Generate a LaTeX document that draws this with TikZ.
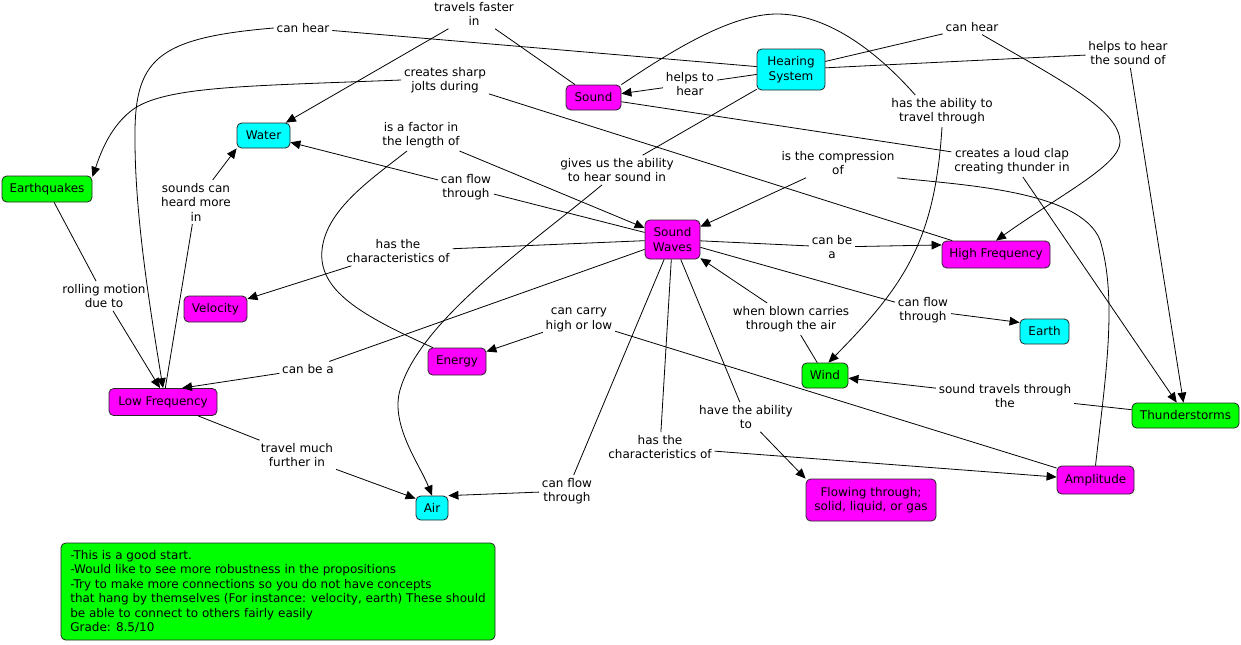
\documentclass[tikz,border=0pt]{standalone}
\usepackage{fontspec}
\setmainfont{DejaVu Sans}
\usetikzlibrary{arrows.meta,calc}
\definecolor{cmag}{HTML}{FF00FF}
\definecolor{ccyan}{HTML}{00FFFF}
\definecolor{cgreen}{HTML}{00FF00}
\begin{document}
\begin{tikzpicture}[x=0.75pt,y=-0.75pt,
  font=\fontsize{9}{10.9}\selectfont,
  concept/.style={draw=black!85, rounded corners=3.5pt, line width=0.6pt, inner sep=1pt, align=center, text=black},
  mag/.style={concept, fill=cmag},
  cya/.style={concept, fill=ccyan},
  grn/.style={concept, fill=cgreen},
  sz/.style 2 args={minimum width=#1*0.75pt, minimum height=#2*0.75pt},
  lab/.style={align=center, inner sep=2pt},
  con/.style={line width=0.6pt, draw=black},
  arr/.style={con, -{Triangle[length=7.5pt,width=6.5pt]}},
]
\fill[white] (0,0) rectangle (1241,644);
\useasboundingbox (0,0) rectangle (1241,644);

% concepts
\node[cya, sz={68}{41}] (HS) at (791,69.5) {Hearing\\System};
\node[mag, sz={55}{25}] (Sound) at (593.5,97.5) {Sound};
\node[cya, sz={53}{25}] (Water) at (263.5,135.5) {Water};
\node[grn, sz={90}{26}] (EQ) at (47,189) {Earthquakes};
\node[mag, sz={55}{39}] (SW) at (672.5,239.5) {Sound\\Waves};
\node[mag, sz={108}{27}] (HF) at (996,254.5) {High Frequency};
\node[mag, sz={63}{26}] (Vel) at (215.5,309) {Velocity};
\node[cya, sz={49}{25}] (Earth) at (1044.5,331.5) {Earth};
\node[mag, sz={58}{27}] (Energy) at (457,361.5) {Energy};
\node[grn, sz={46}{25}] (Wind) at (825,375.5) {Wind};
\node[mag, sz={108}{27}] (LF) at (163,402) {Low Frequency};
\node[grn, sz={107}{25}] (Thunder) at (1185.5,415.5) {Thunderstorms};
\node[mag, sz={77}{28}] (Amp) at (1095.5,480) {Amplitude};
\node[cya, sz={32}{24}] (Air) at (432,508) {Air};
\node[mag, sz={130}{42}] (Flow) at (871,500) {Flowing through;\\solid, liquid, or gas};
\node[grn, sz={434}{97}, align=left] (Note) at (278,591.5) {-This is a good start.\\-Would like to see more robustness in the propositions\\-Try to make more connections so you do not have concepts\\that hang by themselves (For instance: velocity, earth) These should\\be able to connect to others fairly easily\\Grade: 8.5/10};

% linking phrases
\node[lab] (L1) at (303,28) {can hear};
\node[lab] (L2) at (474,14) {travels faster\\in};
\node[lab] (L3) at (445,80) {creates sharp\\jolts during};
\node[lab] (L4) at (690,84) {helps to\\hear};
\node[lab] (L5) at (972,27) {can hear};
\node[lab] (L6) at (1128,53) {helps to hear\\the sound of};
\node[lab] (L7) at (942,111) {has the ability to\\travel through};
\node[lab] (L8) at (421,135) {is a factor in\\the length of};
\node[lab] (L9) at (617,170) {gives us the ability\\to hear sound in};
\node[lab] (L10) at (838,163) {is the compression\\of};
\node[lab] (L11) at (1012,161) {creates a loud clap\\creating thunder in};
\node[lab] (L12) at (196,202) {sounds can\\heard more\\in};
\node[lab] (L13) at (466,187) {can flow\\through};
\node[lab] (L14) at (398,251) {has the\\characteristics of};
\node[lab] (L15) at (832,247) {can be\\a};
\node[lab] (L16) at (104,296) {rolling motion\\due to};
\node[lab] (L17) at (923,310) {can flow\\through};
\node[lab] (L18) at (579,320) {can carry\\high or low};
\node[lab] (L19) at (791,319) {when blown carries\\through the air};
\node[lab] (L20) at (308,369) {can be a};
\node[lab] (L21) at (1005,396) {sound travels through\\the};
\node[lab] (L22) at (746,417) {have the ability\\to};
\node[lab] (L23) at (660,447) {has the\\characteristics of};
\node[lab] (L24) at (297,455) {travel much\\further in};
\node[lab] (L25) at (567,491) {can flow\\through};

% connectors
\draw[con] (HS) -- (L1);
\draw[arr] (L1.west) .. controls (155,38) and (134,60) .. (135,140) .. controls (135,220) and (152,320) .. (LF.north);
\draw[con] (Sound) -- (L2);
\draw[arr] (L2) -- (Water);
\draw[con] (HF) -- (L3);
\draw[arr] (L3.west) .. controls (250,86) and (170,86) .. (135,108) .. controls (110,125) and (100,155) .. (EQ.15);
\draw[con] (HS) -- (L4);
\draw[arr] (L4) -- (Sound);
\draw[con] (HS) -- (L5);
\draw[arr] ($(L5.south)+(10,0)$) .. controls (1060,80) and (1120,110) .. (1120,142) .. controls (1120,165) and (1060,195) .. (HF.north);
\draw[con] (HS) -- (L6);
\draw[arr] (L6) -- (Thunder);
\draw[con] (Sound.north east) .. controls (670,52) and (730,14) .. (777,14) .. controls (830,14) and (880,55) .. ($(L7.north west)!0.25!(L7.north east)$);
\draw[arr] (L7.south) .. controls (935,240) and (905,285) .. (Wind.75);
\draw[con] (Energy.150) .. controls (360,315) and (318,290) .. (322,250) .. controls (326,210) and (370,180) .. ($(L8.south)+(-14,0)$);
\draw[arr] (L8) -- (SW);
\draw[con] (HS) -- (L9);
\draw[arr] ($(L9.south)+(-15,0)$) .. controls (530,245) and (420,320) .. (400,390) .. controls (390,425) and (420,465) .. (Air.north);
\draw[con] (Amp.north) .. controls (1105,380) and (1118,300) .. (1100,240) .. controls (1080,190) and (960,185) .. (L10.south east);
\draw[arr] (L10) -- (SW);
\draw[con] (Sound) -- (L11);
\draw[arr] (L11) -- (Thunder);
\draw[con] (LF) -- (L12);
\draw[arr] (L12) -- (Water.south west);
\draw[con] (SW) -- (L13);
\draw[arr] (L13) -- (Water);
\draw[con] (SW) -- (L14);
\draw[arr] (L14) -- (Vel);
\draw[con] (SW) -- (L15);
\draw[arr] (L15) -- (HF.170);
\draw[con] (EQ) -- (L16);
\draw[arr] (L16) -- ($(LF.north)+(-3,0)$);
\draw[con] (SW) -- (L17);
\draw[arr] (L17) -- (Earth.160);
\draw[con] (Amp) -- (L18);
\draw[arr] (L18) -- (Energy);
\draw[con] (Wind) -- (L19);
\draw[arr] (L19) -- (SW);
\draw[con] (SW) -- (L20);
\draw[arr] (L20) -- ($(LF.north)+(19,0)$);
\draw[con] (Thunder) -- (L21);
\draw[arr] (L21) -- (Wind);
\draw[con] (SW) -- (L22);
\draw[arr] (L22) -- (Flow.north west);
\draw[con] (SW) -- (L23);
\draw[arr] (L23) -- (Amp);
\draw[con] (LF) -- (L24);
\draw[arr] (L24) -- (Air.150);
\draw[con] (SW) -- (L25);
\draw[arr] (L25) -- (Air.north east);
\end{tikzpicture}
\end{document}
